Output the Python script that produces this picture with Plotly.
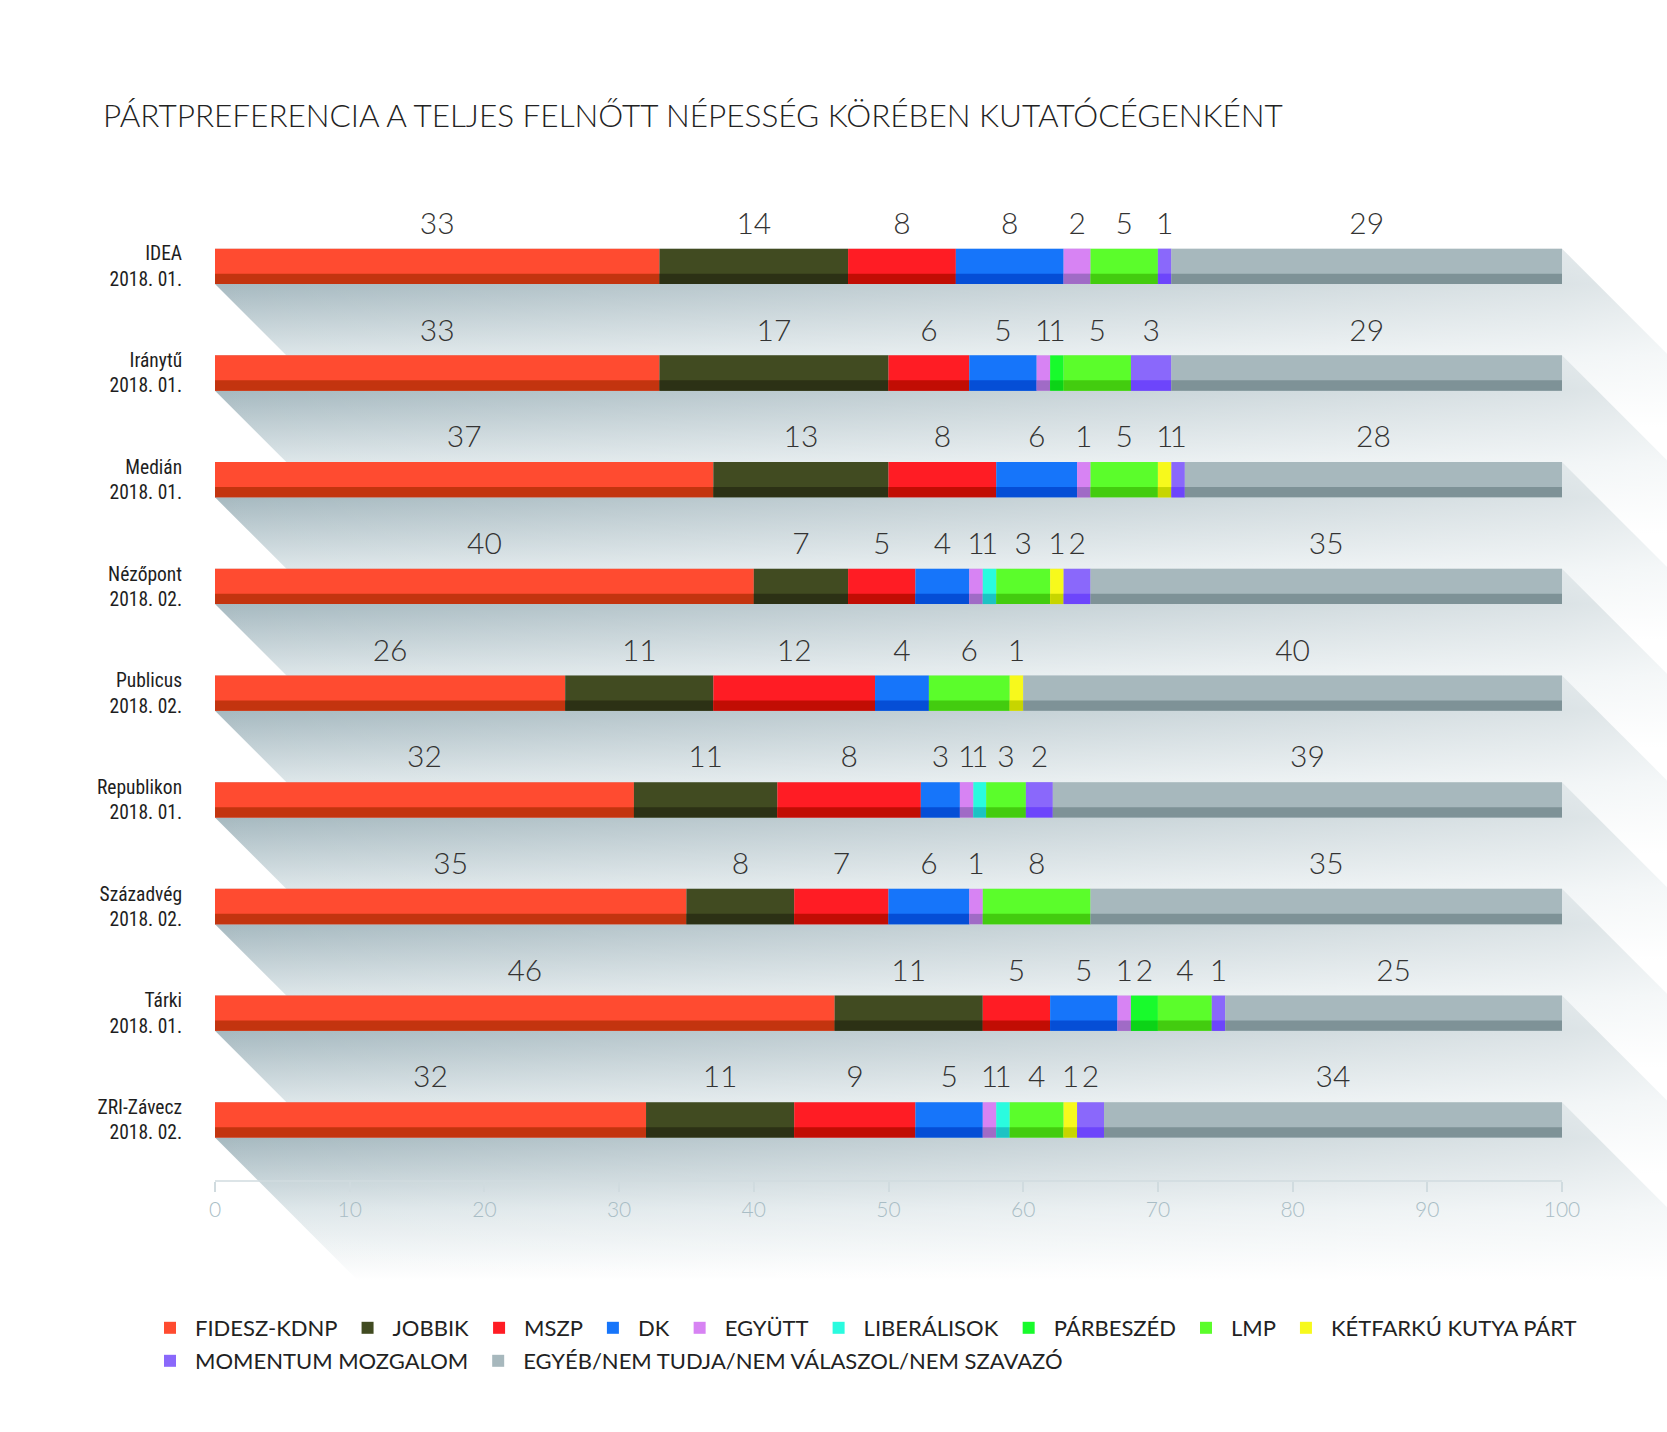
import plotly.graph_objects as go
import numpy as np

# ---------------- data ----------------
pollsters = ["IDEA", "Iránytű", "Medián", "Nézőpont", "Publicus",
             "Republikon", "Századvég", "Tárki", "ZRI-Závecz"]
dates = ["2018. 01.", "2018. 01.", "2018. 01.", "2018. 02.", "2018. 02.",
         "2018. 01.", "2018. 02.", "2018. 01.", "2018. 02."]

party_names = ["FIDESZ-KDNP", "JOBBIK", "MSZP", "DK", "EGYÜTT", "LIBERÁLISOK",
               "PÁRBESZÉD", "LMP", "KÉTFARKÚ KUTYA PÁRT", "MOMENTUM MOZGALOM",
               "EGYÉB/NEM TUDJA/NEM VÁLASZOL/NEM SZAVAZÓ"]

# bar lengths as drawn (percentage points)
fidesz = [33, 33, 37, 40, 26, 31.1, 35, 46, 32]
jobbik = [14, 17, 13, 7, 11, 10.65, 8, 11, 11]
mszp = [8, 6, 8, 5, 12, 10.65, 7, 5, 9]
dk = [8, 5, 6, 4, 4, 2.9, 6, 5, 5]
egyutt = [2, 1, 1, 1, 0, 1.0, 1, 1, 1]
liberalisok = [0, 0, 0, 1, 0, 0.95, 0, 0, 1]
parbeszed = [0, 1, 0, 0, 0, 0, 0, 2, 0]
lmp = [5, 5, 5, 4, 6, 2.95, 8, 4, 4]
kkp = [0, 0, 1, 1, 1, 0, 0, 0, 1]
momentum = [1, 3, 1, 2, 0, 2.0, 0, 1, 2]
egyeb = [29, 29, 28, 35, 40, 37.8, 35, 25, 34]

# printed value labels
fidesz_lbl = [33, 33, 37, 40, 26, 32, 35, 46, 32]
jobbik_lbl = [14, 17, 13, 7, 11, 11, 8, 11, 11]
mszp_lbl = [8, 6, 8, 5, 12, 8, 7, 5, 9]
dk_lbl = [8, 5, 6, 4, 4, 3, 6, 5, 5]
egyutt_lbl = [2, 1, 1, 1, 0, 1, 1, 1, 1]
liberalisok_lbl = [0, 0, 0, 1, 0, 1, 0, 0, 1]
parbeszed_lbl = [0, 1, 0, 0, 0, 0, 0, 2, 0]
lmp_lbl = [5, 5, 5, 3, 6, 3, 8, 4, 4]
kkp_lbl = [0, 0, 1, 1, 1, 0, 0, 0, 1]
momentum_lbl = [1, 3, 1, 2, 0, 2, 0, 1, 2]
egyeb_lbl = [29, 29, 28, 35, 40, 39, 35, 25, 34]

x_ticks = [0, 10, 20, 30, 40, 50, 60, 70, 80, 90, 100]

widths = [fidesz, jobbik, mszp, dk, egyutt, liberalisok, parbeszed, lmp, kkp, momentum, egyeb]
labels = [fidesz_lbl, jobbik_lbl, mszp_lbl, dk_lbl, egyutt_lbl, liberalisok_lbl,
          parbeszed_lbl, lmp_lbl, kkp_lbl, momentum_lbl, egyeb_lbl]

top_colors = ["#ff4b30", "#414b21", "#ff1c24", "#1675fa", "#d783f3", "#2afbdf",
              "#18fb2c", "#5bfd2b", "#f7f91c", "#8a68fb", "#a7b8bd"]
dark_colors = ["#c3340f", "#2c3115", "#c10d04", "#054ed6", "#a06bc6", "#1cc3c4",
               "#0cd317", "#43cc0f", "#c7d500", "#6d45fb", "#7e9297"]

# ---------------- geometry ----------------
W, H = 1667, 1432
ML, MR, MT, MB = 215, 0, 150, 132
PX_X = 13.47                      # px per percentage point
X_RANGE = (W - ML - MR) / PX_X
ROW_PX = 106.7                    # px per row
Y_TOP = -1.09
Y_BOT = Y_TOP + (H - MT - MB) / ROW_PX
BAR_W = 35.3 / ROW_PX
STRIP = 10.3 / ROW_PX
LABEL_DY = 40 / ROW_PX
SH_DX = 143 / PX_X
SH_DY = 143 / ROW_PX
AXIS_PX = 1181
AXIS_Y = Y_TOP + (AXIS_PX - MT) / ROW_PX

rows = np.arange(len(pollsters))
W_arr = np.array(widths, dtype=float)
starts = np.vstack([np.zeros(len(pollsters)), np.cumsum(W_arr, axis=0)[:-1]])
totals = W_arr.sum(axis=0)

fig = go.Figure()

# ---------------- shadows (base subplot) ----------------
for i in rows:
    x0, x1 = 0.0, totals[i]
    yt, yb = i - BAR_W / 2, i + BAR_W / 2
    xs = [x0, x1, x1 + SH_DX, x1 + SH_DX, x0 + SH_DX, x0, x0]
    ys = [yt, yt, yt + SH_DY, yb + SH_DY, yb + SH_DY, yb, yt]
    p_b = (yb - yt) / (yb + SH_DY - yt)
    fig.add_trace(go.Scatter(
        x=xs, y=ys, mode="lines", fill="toself", line=dict(width=0),
        fillgradient=dict(type="vertical", start=yt, stop=yb + SH_DY,
                          colorscale=[[0, "#b6c6cc"], [p_b, "#a6b9c0"],
                                      [0.6, "#dde6e9"], [1, "#ffffff"]]),
        hoverinfo="skip", showlegend=False))

# horizontal lightening towards the right
fig.add_trace(go.Scatter(
    x=[0, X_RANGE, X_RANGE, 0, 0], y=[Y_TOP, Y_TOP, Y_BOT, Y_BOT, Y_TOP],
    mode="lines", fill="toself", line=dict(width=0),
    fillgradient=dict(type="horizontal", start=0, stop=X_RANGE,
                      colorscale=[[0, "rgba(255,255,255,0)"],
                                  [100 / X_RANGE, "rgba(255,255,255,0.6)"],
                                  [1, "rgba(255,255,255,0.7)"]]),
    hoverinfo="skip", showlegend=False))

# ---------------- bars (overlay subplot) ----------------
for k, name in enumerate(party_names):
    leg = "legend2" if k >= 9 else "legend"
    fig.add_trace(go.Bar(
        orientation="h", y=rows, x=W_arr[k], base=starts[k],
        width=BAR_W, offset=-BAR_W / 2,
        marker=dict(color=top_colors[k], line=dict(width=0)),
        name=name, legend=leg, xaxis="x2", yaxis="y2", hoverinfo="skip"))
    fig.add_trace(go.Bar(
        orientation="h", y=rows, x=W_arr[k], base=starts[k],
        width=STRIP, offset=BAR_W / 2 - STRIP,
        marker=dict(color=dark_colors[k], line=dict(width=0)),
        showlegend=False, xaxis="x2", yaxis="y2", hoverinfo="skip"))

# value labels
tx, ty, tt = [], [], []
for k in range(len(party_names)):
    for i in rows:
        if labels[k][i] > 0:
            tx.append(starts[k][i] + W_arr[k][i] / 2)
            ty.append(i - LABEL_DY)
            tt.append(str(labels[k][i]))
fig.add_trace(go.Scatter(
    x=tx, y=ty, text=tt, mode="text", textposition="middle center",
    textfont=dict(family="Lato", size=30, color="#333333", weight=300),
    cliponaxis=False, hoverinfo="skip", showlegend=False,
    xaxis="x2", yaxis="y2"))

# axis baseline
fig.add_trace(go.Scatter(
    x=[x_ticks[0], x_ticks[-1]], y=[AXIS_Y, AXIS_Y], mode="lines",
    line=dict(color="#d0dbdf", width=1.5), hoverinfo="skip",
    showlegend=False, xaxis="x2", yaxis="y2"))

# ---------------- layout ----------------
plot_h = H - MT - MB
plot_w = W - ML - MR
cond_font = ("Roboto Condensed, Noto Sans Condensed, Liberation Sans Narrow, "
             "Arial Narrow, DejaVu Sans Condensed, sans-serif")
fig.update_layout(
    width=W, height=H,
    margin=dict(l=ML, r=MR, t=MT, b=MB, autoexpand=False),
    paper_bgcolor="white", plot_bgcolor="white",
    barmode="overlay",
    title=dict(text="PÁRTPREFERENCIA A TELJES FELNŐTT NÉPESSÉG KÖRÉBEN KUTATÓCÉGENKÉNT",
               x=103 / W, xref="container", xanchor="left",
               y=1 - 116 / H, yref="container", yanchor="middle",
               font=dict(family="Lato", size=31.5, color="#222222", weight=300)),
    xaxis=dict(range=[0, X_RANGE], anchor="free",
               position=(H - MB - AXIS_PX) / plot_h,
               tickmode="array", tickvals=x_ticks, ticktext=[str(v) for v in x_ticks],
               ticks="outside", ticklen=10, tickwidth=1.5, tickcolor="#d0dbdf",
               showline=False, showgrid=False, zeroline=False,
               tickfont=dict(family="Lato", size=21, color="#a9bdc5", weight=300)),
    yaxis=dict(range=[Y_BOT, Y_TOP], tickmode="array", tickvals=rows,
               ticktext=[f"{p}<br>{d}" for p, d in zip(pollsters, dates)],
               ticks="outside", ticklen=28, tickcolor="rgba(0,0,0,0)",
               showline=False, showgrid=False, zeroline=False,
               tickfont=dict(family=cond_font, size=19.5, color="#1e1e1e")),
    xaxis2=dict(range=[0, X_RANGE], overlaying="x", anchor="y2", visible=False),
    yaxis2=dict(range=[Y_BOT, Y_TOP], overlaying="y", anchor="x2", visible=False),
    legend=dict(orientation="h", x=(145 - ML) / plot_w, xanchor="left",
                y=(H - MB - 1328) / plot_h, yanchor="middle",
                font=dict(family="Lato", size=22, color="#222222"),
                itemwidth=40, bgcolor="rgba(0,0,0,0)", traceorder="normal"),
    legend2=dict(orientation="h", x=(145 - ML) / plot_w, xanchor="left",
                 y=(H - MB - 1361) / plot_h, yanchor="middle",
                 font=dict(family="Lato", size=22, color="#222222"),
                 itemwidth=40, bgcolor="rgba(0,0,0,0)", traceorder="normal"),
)

fig.write_html("out.html")
